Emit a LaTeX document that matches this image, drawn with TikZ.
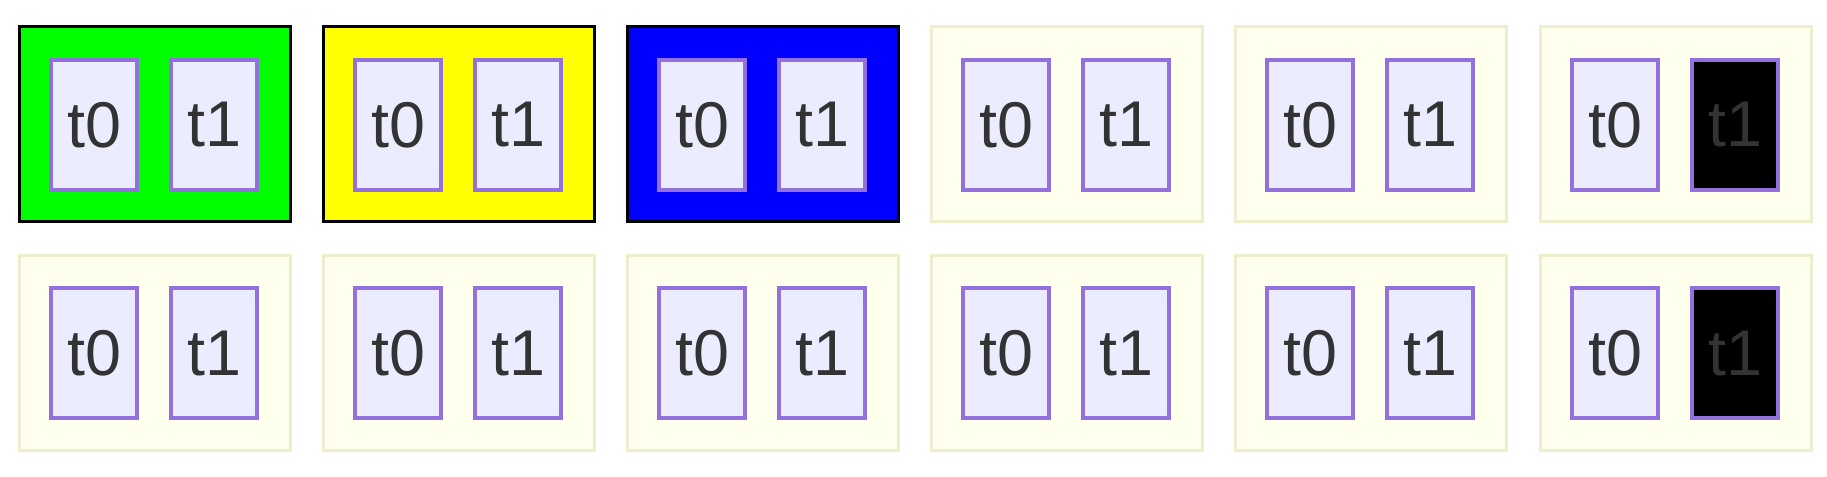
\documentclass[tikz,border=0pt]{standalone}
\usepackage{fontspec}
\setmainfont{Liberation Sans}
\definecolor{nodefill}{HTML}{ECECFF}
\definecolor{nodeline}{HTML}{9370DB}
\definecolor{txt}{HTML}{333333}
\definecolor{clfill}{HTML}{FFFFEE}
\definecolor{clline}{HTML}{EEEECE}
\definecolor{mgreen}{HTML}{00FF00}
\definecolor{myellow}{HTML}{FFFF00}
\definecolor{mblue}{HTML}{0000FF}
\tikzset{
  cluster/.style={draw=clline, fill=clfill, line width=2.6pt, rectangle, inner sep=0pt,
    minimum width=271*0.75pt, minimum height=195*0.75pt},
  dark/.style={cluster, draw=black, line width=2.8pt},
  tnode/.style={draw=nodeline, fill=nodefill, line width=2.6pt, rectangle, inner sep=0pt,
    minimum width=86*0.75pt, minimum height=130*0.75pt, text=txt,
    font=\fontsize{48.5}{52}\selectfont},
  blacknode/.style={tnode, fill=black}
}
\begin{document}
\begin{tikzpicture}[x=0.75pt,y=-0.75pt]
\useasboundingbox[fill=white] (0,0) rectangle (1827,476);
% row 1
\node[dark, fill=mgreen] (c10) at (17+138,25+99) {};
\node[dark, fill=myellow] (c11) at (321+138,25+99) {};
\node[dark, fill=mblue] (c12) at (625+138,25+99) {};
\node[cluster] (c13) at (929+138,25+99) {};
\node[cluster] (c14) at (1233+138,25+99) {};
\node[cluster] (c15) at (1538+138,25+99) {};
% row 2
\foreach \i/\x in {0/17,1/321,2/625,3/929,4/1233,5/1538}{
  \node[cluster] (c2\i) at (\x+138,253+100) {};
}
% inner nodes row 1
\foreach \i/\x in {0/17,1/321,2/625,3/929,4/1233}{
  \node[tnode] (a1\i) at (\x+77,25+100) {t0};
  \node[tnode] (b1\i) at (\x+197,25+100) {t1};
}
\node[tnode] (a15) at (1538+77,25+100) {t0};
\node[blacknode] (b15) at (1538+197,25+100) {t1};
% inner nodes row 2
\foreach \i/\x in {0/17,1/321,2/625,3/929,4/1233}{
  \node[tnode] (a2\i) at (\x+77,253+100) {t0};
  \node[tnode] (b2\i) at (\x+197,253+100) {t1};
}
\node[tnode] (a25) at (1538+77,253+100) {t0};
\node[blacknode] (b25) at (1538+197,253+100) {t1};
\end{tikzpicture}
\end{document}
